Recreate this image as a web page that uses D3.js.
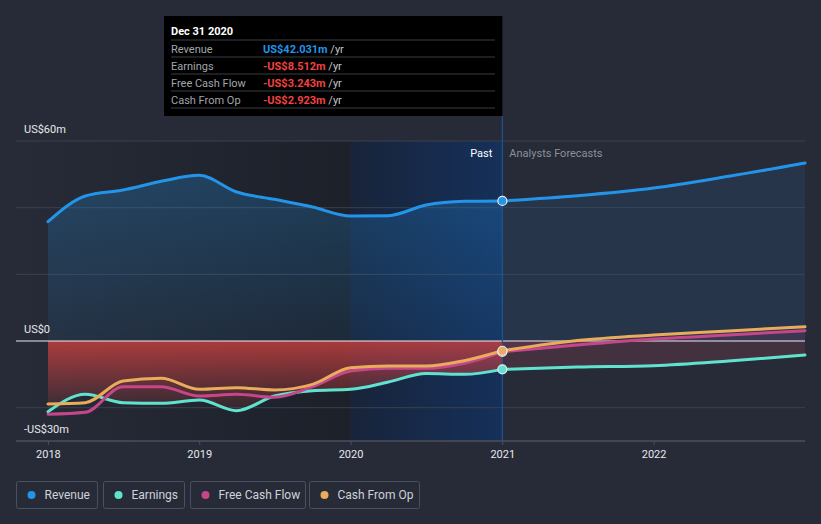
<!DOCTYPE html>
<html>
<head>
<meta charset="utf-8">
<script src="https://cdn.jsdelivr.net/npm/d3@7"></script>
<style>
  html, body { margin: 0; padding: 0; background: #262b37; }
  svg { display: block; font-family: Roboto, "Open Sans", sans-serif; }
</style>
</head>
<body>
<svg id="chart" width="821" height="524"></svg>
<script>
// ---------- DATA ----------
const pastDates = ["2017-12-31","2018-03-31","2018-06-30","2018-09-30","2018-12-31","2019-03-31","2019-06-30","2019-09-30","2019-12-31","2020-03-31","2020-06-30","2020-09-30","2020-12-31"];
const revenuePast  = [35.8, 43.5, 45.3, 47.9, 49.7, 44.7, 42.5, 40.2, 37.5, 37.6, 40.8, 41.9, 42.031];
const earningsPast = [-21.2, -16.0, -18.5, -18.7, -17.7, -20.9, -16.5, -14.9, -14.5, -12.3, -9.75, -10.0, -8.512];
const fcfPast      = [-22.0, -21.4, -13.7, -13.7, -16.5, -16.0, -16.9, -13.7, -9.0, -8.2, -8.2, -6.7, -3.243];
const cfoPast      = [-18.9, -18.5, -12.0, -11.2, -14.5, -14.0, -14.7, -13.0, -8.0, -7.5, -7.5, -5.9, -2.923];

const forecastDates = ["2020-12-31","2021-06-30","2021-12-31","2022-06-30","2022-12-31"];
const revenueFc  = [42.031, 43.6, 45.9, 49.4, 53.4];
const earningsFc = [-8.512, -7.8, -7.4, -6.0, -4.2];
const fcfFc      = [-3.243, -1.2, 0.6, 1.8, 3.1];
const cfoFc      = [-2.923, 0.15, 1.8, 3.0, 4.3];

const yTicks = [60, 40, 20, 0, -20, -30];
const yLabels = [{v: 60, t: "US$60m"}, {v: 0, t: "US$0"}, {v: -30, t: "-US$30m"}];
const xTickYears = [2018, 2019, 2020, 2021, 2022];

const seriesNames = ["Revenue", "Earnings", "Free Cash Flow", "Cash From Op"];
const seriesColors = ["#2394e8", "#5fe3cf", "#c5468a", "#e9ab5c"];

const tooltipTitle = "Dec 31 2020";
const tooltipValues = ["US$42.031m", "-US$8.512m", "-US$3.243m", "-US$2.923m"];

// ---------- SETUP ----------
const svg = d3.select("#chart");
const parse = d3.timeParse("%Y-%m-%d");
const pd = pastDates.map(parse);
const fd = forecastDates.map(parse);

const x = d3.scaleTime().domain([parse("2017-12-31"), parse("2022-12-31")]).range([48, 805]);
const y = d3.scaleLinear().domain([-30, 60]).range([441, 141]);
const left = 16, right = 805;
const xNow = x(parse("2020-12-31"));
const xPastStart = x(parse("2019-12-31"));

const defs = svg.append("defs");
const g1 = defs.append("linearGradient").attr("id","pastShade").attr("x1","0").attr("x2","1").attr("y1","0").attr("y2","0");
g1.append("stop").attr("offset","0").attr("stop-color","#000").attr("stop-opacity",0);
g1.append("stop").attr("offset","1").attr("stop-color","#000").attr("stop-opacity",0.25);
const g2 = defs.append("linearGradient").attr("id","lastYear").attr("x1","0").attr("x2","1").attr("y1","0").attr("y2","0");
g2.append("stop").attr("offset","0").attr("stop-color","#18243a");
g2.append("stop").attr("offset","1").attr("stop-color","#15305a");
const g3 = defs.append("linearGradient").attr("id","revFill").attr("gradientUnits","userSpaceOnUse").attr("x1",0).attr("x2",0).attr("y1",y(55)).attr("y2",y(0));
g3.append("stop").attr("offset","0").attr("stop-color","#2394e8").attr("stop-opacity",0.28);
g3.append("stop").attr("offset","1").attr("stop-color","#2394e8").attr("stop-opacity",0.08);
const g4 = defs.append("linearGradient").attr("id","earnFill").attr("gradientUnits","userSpaceOnUse").attr("x1",0).attr("x2",0).attr("y1",y(0)).attr("y2",y(-20));
g4.append("stop").attr("offset","0").attr("stop-color","#c8403f").attr("stop-opacity",0.82);
g4.append("stop").attr("offset","1").attr("stop-color","#c8403f").attr("stop-opacity",0.12);

// background shading
svg.append("rect").attr("x", left).attr("y", y(60)).attr("width", xPastStart - left).attr("height", y(-30) - y(60)).attr("fill","url(#pastShade)");
svg.append("rect").attr("x", xPastStart).attr("y", y(60)).attr("width", xNow - xPastStart).attr("height", y(-30) - y(60)).attr("fill","url(#lastYear)");

// gridlines
svg.append("g").selectAll("line").data(yTicks.filter(v => v !== 0)).join("line")
  .attr("x1", left).attr("x2", right).attr("y1", d => y(d)).attr("y2", d => y(d))
  .attr("stroke", d => d === -30 ? "#4a505e" : "#3a404d").attr("stroke-width", 1);

const curve = d3.curveMonotoneX;
const mk = (dates, vals) => dates.map((d, i) => ({d, v: vals[i]}));
const area = d3.area().x(p => x(p.d)).y0(y(0)).y1(p => y(p.v)).curve(curve);
const line = d3.line().x(p => x(p.d)).y(p => y(p.v)).curve(curve);

// areas
svg.append("path").attr("d", area(mk(pd, revenuePast))).attr("fill","url(#revFill)");
svg.append("path").attr("d", area(mk(fd, revenueFc))).attr("fill","#2394e8").attr("fill-opacity",0.1);
svg.append("path").attr("d", area(mk(pd, earningsPast))).attr("fill","url(#earnFill)");
svg.append("path").attr("d", area(mk(fd, earningsFc))).attr("fill","#b04a63").attr("fill-opacity",0.22);
svg.append("path").attr("d", area(mk(fd, fcfFc))).attr("fill","#c5468a").attr("fill-opacity",0.14);

// zero line
svg.append("line").attr("x1", left).attr("x2", right).attr("y1", y(0)).attr("y2", y(0)).attr("stroke","#ffffff").attr("stroke-opacity",0.9).attr("stroke-width",1.2);

// now line
svg.append("line").attr("x1", xNow).attr("x2", xNow).attr("y1", 116).attr("y2", y(-30)).attr("stroke","#1f5490").attr("stroke-width",1.2);

// lines
const pastSets = [revenuePast, earningsPast, fcfPast, cfoPast];
const fcSets = [revenueFc, earningsFc, fcfFc, cfoFc];
[1, 2, 3, 0].forEach(i => {
  svg.append("path").attr("d", line(mk(pd, pastSets[i]))).attr("fill","none").attr("stroke", seriesColors[i]).attr("stroke-width", 3).attr("stroke-linecap","round");
  svg.append("path").attr("d", line(mk(fd, fcSets[i]))).attr("fill","none").attr("stroke", seriesColors[i]).attr("stroke-width", 3).attr("stroke-linecap","round");
});

// markers at now
[1, 2, 3, 0].forEach(i => {
  svg.append("circle").attr("cx", xNow).attr("cy", y(pastSets[i][pastSets[i].length - 1])).attr("r", 4.5)
    .attr("fill", seriesColors[i]).attr("stroke", "#e8ecf2").attr("stroke-width", 1.2);
});

// x axis
svg.append("line").attr("x1", left).attr("x2", right).attr("y1", y(-30)).attr("y2", y(-30)).attr("stroke","#4a505e");
const xt = svg.append("g");
xTickYears.forEach(yr => {
  const px = x(parse(yr + "-01-01"));
  xt.append("line").attr("x1", px).attr("x2", px).attr("y1", y(-30)).attr("y2", y(-30) + 4).attr("stroke","#4a505e");
  xt.append("text").attr("x", px).attr("y", 458).attr("text-anchor","middle").attr("fill","#e6e8ec").attr("font-size", 11).text(yr);
});

// y labels
svg.append("g").selectAll("text").data(yLabels).join("text")
  .attr("x", 24).attr("y", d => y(d.v) - 8).attr("fill","#e6e8ec").attr("font-size", 11).text(d => d.t);

// Past / forecasts labels
svg.append("text").attr("x", xNow - 10).attr("y", 157).attr("text-anchor","end").attr("fill","#ffffff").attr("font-size", 11).text("Past");
svg.append("text").attr("x", xNow + 7).attr("y", 157).attr("fill","#8b909a").attr("font-size", 11).text("Analysts Forecasts");

// tooltip
const tt = svg.append("g");
tt.append("rect").attr("x", 164).attr("y", 16).attr("width", xNow - 164).attr("height", 100).attr("fill","#000");
tt.append("text").attr("x", 171).attr("y", 35).attr("fill","#fff").attr("font-size", 11).attr("font-weight","bold").text(tooltipTitle);
seriesNames.forEach((n, i) => {
  const ly = 40 + i * 17;
  tt.append("line").attr("x1", 171).attr("x2", 495).attr("y1", ly).attr("y2", ly).attr("stroke","#3a3d44");
  tt.append("text").attr("x", 171).attr("y", ly + 13).attr("fill","#a2a5ab").attr("font-size", 11).text(n);
  const t = tt.append("text").attr("x", 263).attr("y", ly + 13).attr("font-size", 11);
  t.append("tspan").attr("fill", i === 0 ? "#2394e8" : "#f0433f").attr("font-weight","bold").text(tooltipValues[i]);
  t.append("tspan").attr("fill","#c4c6ca").text(" /yr");
});
tt.append("line").attr("x1", 171).attr("x2", 495).attr("y1", 108).attr("y2", 108).attr("stroke","#3a3d44");

// legend
const legendBoxes = [[16, 81], [103, 81], [190, 115], [309, 110]];
seriesNames.forEach((n, i) => {
  const [bx, bw] = legendBoxes[i];
  const lg = svg.append("g");
  lg.append("rect").attr("x", bx + 0.5).attr("y", 481.5).attr("width", bw).attr("height", 27).attr("rx", 2)
    .attr("fill","none").attr("stroke","#4a505e");
  lg.append("circle").attr("cx", bx + 15.5).attr("cy", 495).attr("r", 4).attr("fill", seriesColors[i]);
  lg.append("text").attr("x", bx + 28.5).attr("y", 499).attr("fill","#cfd2d8").attr("font-size", 12).text(n);
});
</script>
</body>
</html>
